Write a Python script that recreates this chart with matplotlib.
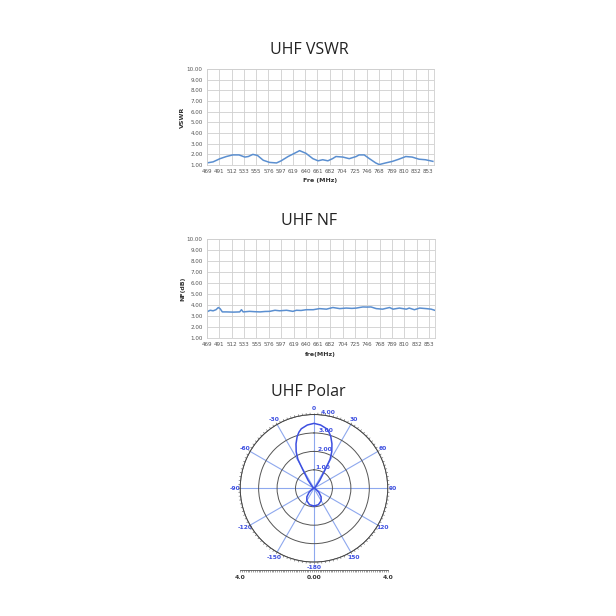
import numpy as np
import matplotlib.pyplot as plt

# UHF VSWR curve
vswr_freq = [469, 480, 492, 503, 514, 525, 535, 541, 549, 557, 567, 578, 590, 598,
             610, 621, 630, 641, 653, 662, 670, 679, 687, 693, 705, 716, 728, 733,
             742, 751, 762, 768, 779, 791, 802, 814, 825, 837, 848, 861]
vswr_vals = [1.2, 1.3, 1.6, 1.8, 1.95, 1.95, 1.75, 1.8, 2.0, 1.9, 1.45, 1.25, 1.2, 1.4,
             1.8, 2.1, 2.35, 2.1, 1.6, 1.4, 1.5, 1.4, 1.6, 1.8, 1.75, 1.6, 1.8, 1.95,
             1.95, 1.6, 1.2, 1.05, 1.2, 1.35, 1.55, 1.8, 1.75, 1.55, 1.5, 1.35]

# UHF NF curve
nf_freq = [469, 475, 480, 485, 489, 492, 496, 503, 515, 526, 529, 532, 543, 552, 561,
           570, 578, 587, 595, 607, 618, 624, 632, 641, 653, 664, 676, 687, 699, 710,
           720, 728, 733, 739, 746, 753, 762, 773, 785, 791, 802, 814, 819, 828, 837,
           848, 857, 863]
nf_vals = [3.4, 3.55, 3.5, 3.6, 3.8, 3.7, 3.4, 3.4, 3.38, 3.4, 3.6, 3.4, 3.45, 3.42, 3.4,
           3.44, 3.45, 3.55, 3.5, 3.55, 3.45, 3.55, 3.53, 3.6, 3.6, 3.7, 3.65, 3.8, 3.7, 3.75,
           3.72, 3.75, 3.8, 3.85, 3.84, 3.85, 3.7, 3.65, 3.8, 3.65, 3.75, 3.65, 3.75, 3.6, 3.75,
           3.7, 3.65, 3.55]

freq_ticks = [469, 491, 512, 533, 555, 576, 597, 619, 640, 661, 682, 704, 725, 746,
              768, 789, 810, 832, 853]
y_ticks = [1, 2, 3, 4, 5, 6, 7, 8, 9, 10]

# UHF polar pattern (degrees, gain)
polar_deg = [-180, -165, -150, -140, -130, -120, -110, -90, -60, -50, -42, -36, -31, -29,
             -26, -22, -18, -15, -12, -6, 0, 6, 12, 15, 18, 22, 26, 29, 31, 36, 42, 50,
             60, 90, 110, 120, 130, 140, 150, 165, 180]
polar_vals = [0.96, 0.92, 0.78, 0.6, 0.35, 0.15, 0.05, 0.03, 0.04, 0.06, 0.2, 0.55, 1.17, 1.8,
              2.2, 2.6, 2.95, 3.15, 3.3, 3.45, 3.52, 3.45, 3.3, 3.15, 2.95, 2.6, 2.2, 1.8,
              1.17, 0.55, 0.2, 0.06, 0.04, 0.03, 0.05, 0.15, 0.35, 0.6, 0.78, 0.92, 0.96]
polar_rings = [1, 2, 3, 4]
angle_labels = ['0', '30', '60', '90', '120', '150', '-180', '-150', '-120', '-90', '-60', '-30']

line_col = '#5b8fd0'
tick_col = '#555555'
fig = plt.figure(figsize=(6.16, 6.16), dpi=100)


def excel_panel(rect, x, y, ylabel, xlabel):
    ax = fig.add_axes(rect)
    ax.plot(x, y, color=line_col, lw=1.1)
    ax.set_xlim(469, 863)
    ax.set_ylim(1, 10)
    ax.set_xticks(freq_ticks)
    ax.set_xticklabels([str(t) for t in freq_ticks])
    ax.set_yticks(y_ticks)
    ax.set_yticklabels(['%.2f' % v for v in y_ticks])
    ax.grid(True, color='#cfcfcf', lw=0.6)
    for s in ax.spines.values():
        s.set_color('#cfcfcf')
        s.set_linewidth(0.6)
    ax.tick_params(length=0, labelsize=4.1, labelcolor=tick_col, pad=3)
    ax.set_ylabel(ylabel, fontsize=4.5, fontweight='bold', color='#333333', labelpad=1)
    ax.set_xlabel(xlabel, fontsize=4.5, fontweight='bold', color='#333333', labelpad=3)
    return ax


excel_panel([0.3356, 0.732, 0.369, 0.1563], vswr_freq, vswr_vals, 'VSWR', 'Fre (MHz)')
excel_panel([0.3356, 0.4508, 0.370, 0.1607], nf_freq, nf_vals, 'NF(dB)', 'fre(MHz)')

# titles
title_kw = dict(fontsize=11.5, family='Open Sans', color='#222222', ha='center', va='baseline')
fig.text(309 / 616, 1 - 54 / 616, 'UHF VSWR', **title_kw)
fig.text(309.5 / 616, 1 - 225 / 616, 'UHF NF', **title_kw)
fig.text(308.5 / 616, 1 - 396 / 616, 'UHF Polar', **title_kw)

# polar chart
pax = fig.add_axes([0.3899, 0.0875, 0.2396, 0.2396], projection='polar')
pax.set_theta_zero_location('N')
pax.set_theta_direction(-1)
pax.plot(np.radians(polar_deg), polar_vals, color='#3d4fe0', lw=1.1)
pax.set_ylim(0, 4)
pax.set_yticks(polar_rings)
pax.set_yticklabels(['%.2f' % r for r in polar_rings], fontsize=4.3, color='#3d4fe0',
                    fontweight='bold')
pax.set_rlabel_position(5)
pax.set_xticks(np.radians(np.arange(0, 360, 30)))
pax.set_xticklabels(angle_labels, fontsize=4.3, color='#3d4fe0', fontweight='bold')
pax.tick_params(axis='x', which='major', pad=-3, length=0)
pax.xaxis.grid(True, which='major', color='#8ea8ee', lw=0.8)
pax.yaxis.grid(True, color='#555555', lw=0.7)
pax.spines['polar'].set_color('#444444')
pax.spines['polar'].set_linewidth(0.7)
# small tick marks round the outer circle
tick_ang = np.radians(np.arange(0, 360, 3))
pax.vlines(tick_ang, 4.0, 4.1, color='#555555', lw=0.4, clip_on=False)

# scale bar under the polar chart
sax = fig.add_axes([0.3899, 0.075, 0.2396, 0.001])
sax.set_xlim(-4, 4)
sax.set_yticks([])
for k in ['top', 'left', 'right']:
    sax.spines[k].set_visible(False)
sax.spines['bottom'].set_color('#555555')
sax.spines['bottom'].set_linewidth(0.6)
sax.set_xticks([-4, 0, 4])
sax.set_xticklabels(['4.0', '0.00', '4.0'], fontsize=4.3, fontweight='bold', color='#333333')
sax.set_xticks(np.arange(-4, 4.01, 0.1), minor=True)
sax.tick_params(axis='x', which='both', length=1.5, width=0.4, color='#555555', pad=2)

fig.savefig('out.png', dpi=100, facecolor='white')
